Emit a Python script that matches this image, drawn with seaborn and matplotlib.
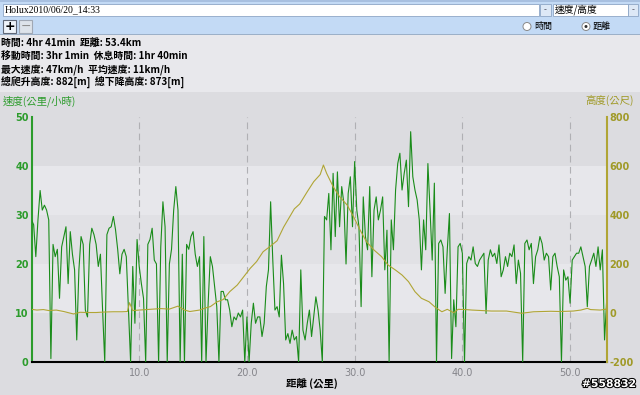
import numpy as np
import pandas as pd
import matplotlib
matplotlib.use("Agg")
import matplotlib.pyplot as plt
from matplotlib.patches import Rectangle, Circle
import matplotlib.patheffects as pe
import seaborn as sns

sns.set_theme(style="white")
plt.rcParams['font.family'] = ['Noto Sans CJK TC', 'DejaVu Sans']

# ---------------- data ----------------
title_text = "Holux2010/06/20_14:33"
mode_text = "速度/高度"
radio_labels = ["時間", "距離"]
info_lines = [
    "時間: 4hr 41min  距離: 53.4km",
    "移動時間: 3hr 1min  休息時間: 1hr 40min",
    "最大速度: 47km/h  平均速度: 11km/h",
    "總爬升高度: 882[m]  總下降高度: 873[m]",
]
speed_label = "速度(公里/小時)"
elev_label = "高度(公尺)"
x_label = "距離 (公里)"
watermark = "#558832"

speed_step_km = 0.2
speed_kmh = [
    29, 28, 21.5, 29, 35,
    31, 32, 31, 29, 0.7,
    24, 21.5, 23, 13, 23.5,
    25.5, 27.6, 16, 26.6, 22,
    18.8, 4.5, 18.8, 25.6, 24,
    10.6, 9.2, 24, 27.3, 26,
    24, 19.5, 22, 10.6, 0,
    26, 27.3, 27.6, 29.7, 27,
    23, 18, 22, 23, 21.5,
    10.6, 0, 19.5, 7.9, 25,
    19.5, 16, 13, 0, 24,
    25, 27.3, 20.8, 20, 0,
    23.5, 32.7, 27.6, 0, 20,
    23, 31, 35.8, 31, 0,
    22, 0, 24, 23, 25.6,
    26.6, 22, 19.5, 21.5, 0,
    25.6, 0, 12, 21.5, 19.5,
    15.4, 11.3, 0, 14.4, 14.4,
    12.7, 12.7, 10.6, 7.2, 9.2,
    8.6, 10, 9.2, 10.6, 0,
    9.2, 0, 7.9, 12, 7.9,
    9.2, 9.2, 5.2, 7.9, 15.4,
    18.8, 32.7, 20.8, 10.6, 11.3,
    9.2, 21.8, 16, 4.5, 5.8,
    3.8, 6.5, 4.5, 5.2, 0,
    18.8, 6.5, 4.5, 7.9, 10.6,
    5.2, 9.2, 13.3, 10.6, 6.5,
    0, 29.7, 29, 34.4, 22.9,
    38.5, 25.6, 38.8, 27.6, 35.8,
    32.4, 20, 34.4, 37.8, 27.6,
    40.9, 31, 27.6, 11.3, 33.7,
    25.6, 22.9, 35.8, 17.4, 31,
    33.7, 29, 31, 33.7, 18.8,
    26.9, 0, 29, 22.9, 35.1,
    40.5, 42.6, 35.1, 38.5, 41.2,
    31.7, 47, 37.8, 35.1, 33.1,
    29, 18.8, 29, 22.9, 40.5,
    31, 20.8, 36.5, 0, 24.2,
    24.9, 23.5, 14, 22.9, 30.3,
    0.7, 12.7, 7.2, 23.5, 24.2,
    22.2, 0, 20.1, 21.5, 20.8,
    23.5, 20.1, 19.5, 20.8, 21.5,
    22.2, 9.9, 20.8, 22.9, 21.5,
    22.2, 20.1, 23.9, 17.4, 18.8,
    21.5, 19.5, 22.2, 21.5, 23.9,
    16, 20.8, 18.1, 0, 24.2,
    24.9, 22.9, 24.2, 16, 21.5,
    22.9, 25.6, 24.2, 20.8, 22.2,
    21.5, 14.7, 21.5, 22.2, 19.5,
    17.4, 0, 18.8, 16.7, 17.4,
    12, 20.8, 21.5, 22.2, 22.2,
    23.5, 21.5, 19.5, 11.3, 19.5,
    20.8, 22.2, 19.5, 23.5, 18.8,
    22.9, 4.5, 12.7,
]

elev_km = [0.0, 0.5, 1.1, 1.6, 2.3, 3.0, 3.9, 4.5, 5.2, 6.0, 6.8, 7.6, 8.4, 8.9,
           9.1, 9.4, 10.0, 11.0, 12.0, 12.8, 13.6, 14.2, 14.7, 15.6, 16.1, 16.6,
           17.2, 17.8, 18.4, 19.1, 19.7, 20.3, 20.9, 21.5, 22.1, 22.8, 23.4, 24.0,
           24.4, 24.9, 25.6, 26.2, 26.8, 27.1, 27.4, 28.0, 28.6, 29.3, 29.9, 30.5,
           31.1, 31.8, 32.5, 33.1, 33.8, 34.4, 35.0, 35.6, 36.2, 36.9, 37.5, 38.1,
           38.6, 39.2, 39.6, 40.3, 40.9, 41.8, 42.7, 44.1, 45.5, 46.6, 48.2, 49.1,
           50.3, 51.0, 51.6, 51.9, 52.8, 53.4]
elev_m = [15, 12, 14, 10, 12, 6, -4, 3, 2, 2, 4, 5, 5, 6,
          42, 10, 12, 15, 18, 16, 28, 12, 6, 12, 20, 26,
          45, 55, 87, 114, 148, 182, 210, 250, 270, 295, 350, 395,
          425, 445, 495, 536, 565, 604, 570, 516, 475, 441, 393, 339,
          291, 257, 230, 196, 175, 155, 128, 87, 60, 46, 23, 5,
          15, 1, 15, 14, 12, 10, 8, 8, -1, 5, 7, 6,
          8, 12, 19, 14, 12, 16]

x_ticks = [10, 20, 30, 40, 50]
x_tick_labels = ["10.0", "20.0", "30.0", "40.0", "50.0"]
speed_ticks = [0, 10, 20, 30, 40, 50]
elev_ticks = [-200, 0, 200, 400, 600, 800]

speed_df = pd.DataFrame({"km": np.arange(len(speed_kmh)) * speed_step_km,
                         "speed": speed_kmh})
elev_df = pd.DataFrame({"km": elev_km, "elev": elev_m})

# ---------------- colours ----------------
GREEN = "#1a8c1a"
GREEN_TXT = "#2c9c2c"
OLIVE = "#b0a535"
OLIVE_TXT = "#a09a28"
BG = "#dcdce0"

W, H = 640, 395
fig = plt.figure(figsize=(6.4, 3.95), dpi=100, facecolor=BG)

# UI chrome drawn in pixel coordinates
ui = fig.add_axes([0, 0, 1, 1], zorder=0)
ui.set_xlim(0, W)
ui.set_ylim(H, 0)
ui.axis("off")

ui.add_patch(Rectangle((0, 0), W, 35, facecolor="#c3daf5", edgecolor="none"))
ui.add_patch(Rectangle((0, 0), W, 2, facecolor="#a8c0e0", edgecolor="none"))
ui.add_patch(Rectangle((0, 34), W, 1.2, facecolor="#9cb0c8", edgecolor="none"))
ui.add_patch(Rectangle((0, 35.2), W, 57, facecolor="#e8e8ec", edgecolor="none"))
# title box + dropdowns
ui.add_patch(Rectangle((3, 3.5), 536, 12.5, facecolor="white", edgecolor="#8ea6c6", lw=0.6))
ui.add_patch(Rectangle((540, 3.5), 11, 12.5, facecolor="#dde8f6", edgecolor="#8ea6c6", lw=0.6))
ui.text(545.5, 9.5, "-", fontsize=6, color="#556", ha="center", va="center")
ui.add_patch(Rectangle((553, 3.5), 75, 12.5, facecolor="white", edgecolor="#8ea6c6", lw=0.6))
ui.add_patch(Rectangle((628, 3.5), 10, 12.5, facecolor="#dde8f6", edgecolor="#8ea6c6", lw=0.6))
ui.text(633, 9.5, "-", fontsize=6, color="#556", ha="center", va="center")
ui.text(5, 9.8, title_text, fontsize=7, family="Liberation Serif", color="black",
        ha="left", va="center")
ui.text(555, 9.8, mode_text, fontsize=7, color="black", ha="left", va="center")
# +/- buttons
ui.add_patch(Rectangle((3, 20), 13, 13, facecolor="#eef3fa", edgecolor="#606878", lw=0.8))
ui.add_patch(Rectangle((19, 20), 13, 13, facecolor="#dde3ea", edgecolor="#a0a8b4", lw=0.8))
ui.text(9.5, 26.5, "+", fontsize=9, color="black", ha="center", va="center", weight="bold",
        family="DejaVu Sans")
ui.text(25.5, 26.5, "−", fontsize=9, color="#909090", ha="center", va="center",
        family="DejaVu Sans")
# radio buttons
ui.add_patch(Circle((527, 26.5), 4, facecolor="white", edgecolor="#8a8a8a", lw=0.7))
ui.text(534, 26.5, radio_labels[0], fontsize=6.5, color="black", ha="left", va="center")
ui.add_patch(Circle((586, 26.5), 4, facecolor="white", edgecolor="#8a8a8a", lw=0.7))
ui.add_patch(Circle((586, 26.5), 1.5, facecolor="#303030", edgecolor="none"))
ui.text(593, 26.5, radio_labels[1], fontsize=6.5, color="black", ha="left", va="center")
# info lines
for i, line in enumerate(info_lines):
    ui.text(1, 42.5 + i * 13.5, line, fontsize=7.1, weight="bold", color="black",
            ha="left", va="center")
# axis titles
ui.text(3, 101.5, speed_label, fontsize=7.5, color=GREEN_TXT, ha="left", va="center")
ui.text(634, 100, elev_label, fontsize=7.5, color=OLIVE_TXT, ha="right", va="center")
ui.text(312, 384, x_label, fontsize=7.5, weight="bold", color="black",
        ha="center", va="center")
ui.text(609, 384, watermark, fontsize=7.8, weight="bold", color="white",
        ha="center", va="center", family="DejaVu Sans",
        path_effects=[pe.withStroke(linewidth=1.5, foreground="black")])

# ---------------- plot ----------------
left = 31.5 / W
bottom = (H - 362) / H
ax = fig.add_axes([left, bottom, 575.2 / W, 245 / H], zorder=2)
ax.set_facecolor("none")
band_cols = ["#dcdce0", "#e7e7eb", "#e1e1e5", "#e7e7eb", "#dcdce0"]
for k, c in enumerate(band_cols):
    ax.axhspan(k * 10, (k + 1) * 10, color=c, lw=0, zorder=0)

sns.lineplot(data=speed_df, x="km", y="speed", ax=ax, color=GREEN, lw=0.8,
             estimator=None, sort=False, zorder=3)
ax.set_xlim(0, 53.4)
ax.set_ylim(0, 50)
ax.set_xticks(x_ticks)
ax.set_xticklabels(x_tick_labels)
ax.set_yticks(speed_ticks)
ax.set_yticklabels([str(v) for v in speed_ticks])
ax.grid(axis="x", color="#b0b0b4", linestyle=(0, (6, 4)), lw=0.8, zorder=1)
ax.grid(axis="y", visible=False)
ax.set_xlabel("")
ax.set_ylabel("")
ax.tick_params(axis="x", length=0, pad=4, labelsize=7, labelcolor="#84848a")
ax.tick_params(axis="y", length=0, pad=2, labelsize=7, labelcolor=GREEN_TXT)
for t in ax.get_yticklabels():
    t.set_fontweight("bold")
    t.set_family("DejaVu Sans")
for t in ax.get_xticklabels():
    t.set_family("DejaVu Sans")
for s in ["top", "right"]:
    ax.spines[s].set_visible(False)
ax.spines["left"].set_color(GREEN_TXT)
ax.spines["left"].set_linewidth(1.5)
ax.spines["bottom"].set_color("black")
ax.spines["bottom"].set_linewidth(1.5)

ax2 = ax.twinx()
sns.lineplot(data=elev_df, x="km", y="elev", ax=ax2, color=OLIVE, lw=0.8,
             estimator=None, sort=False)
ax2.set_ylim(-200, 800)
ax2.set_yticks(elev_ticks)
ax2.set_yticklabels([str(v) for v in elev_ticks])
ax2.set_ylabel("")
ax2.grid(False)
ax2.tick_params(axis="y", length=0, pad=2, labelsize=7, labelcolor=OLIVE_TXT)
for t in ax2.get_yticklabels():
    t.set_fontweight("bold")
    t.set_family("DejaVu Sans")
for s in ["top", "left", "bottom"]:
    ax2.spines[s].set_visible(False)
ax2.spines["right"].set_color(OLIVE)
ax2.spines["right"].set_linewidth(1.5)

fig.savefig("out.png", dpi=100, facecolor=BG)
